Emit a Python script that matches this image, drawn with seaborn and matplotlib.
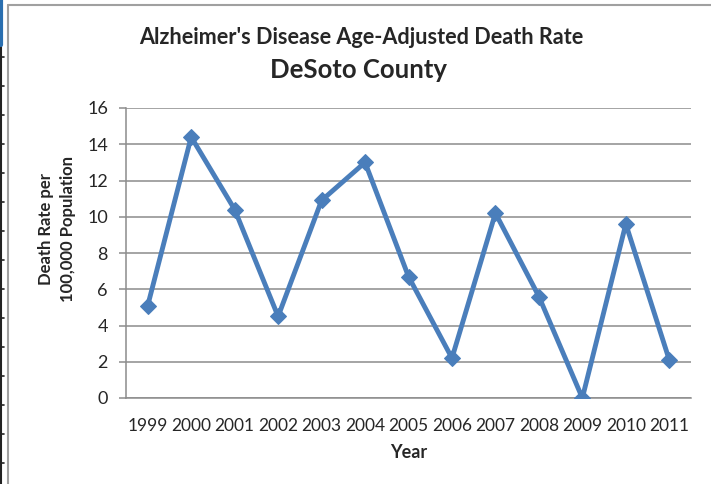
import numpy as np
import pandas as pd
import matplotlib
matplotlib.use("Agg")
import matplotlib.pyplot as plt
import seaborn as sns
from matplotlib.lines import Line2D

# values
years = ["1999", "2000", "2001", "2002", "2003", "2004", "2005",
         "2006", "2007", "2008", "2009", "2010", "2011"]
rates = [5.1, 14.4, 10.4, 4.5, 10.9, 13.0, 6.7, 2.2, 10.2, 5.6, 0.0, 9.6, 2.1]
y_ticks = [0, 2, 4, 6, 8, 10, 12, 14, 16]

df = pd.DataFrame({"Year": years, "Rate": rates})
df["pos"] = np.arange(len(years))

sns.set_style("white")
plt.rcParams["font.family"] = ["Lato", "DejaVu Sans"]

W, H = 711, 484
fig = plt.figure(figsize=(W / 100, H / 100), dpi=100)
ax = fig.add_axes([126 / W, 1 - 398 / H, (691 - 126) / W, (398 - 108) / H])

sns.lineplot(data=df, x="pos", y="Rate", ax=ax, color="#4A7EBB", linewidth=3.5,
             marker="D", markersize=8.5, markeredgecolor="#4A7EBB", zorder=3)

ax.set_xlim(-0.5, len(years) - 0.5)
ax.set_ylim(0, 16)
ax.set_yticks(y_ticks)
ax.set_xticks(df["pos"])
ax.set_xticklabels(years)
ax.yaxis.grid(True, color="#8C8C8C", linewidth=1.1)
ax.set_axisbelow(True)

for s in ["top", "right"]:
    ax.spines[s].set_visible(False)
ax.spines["left"].set_color("#8C8C8C")
ax.spines["bottom"].set_color("#8C8C8C")
ax.spines["left"].set_linewidth(1.1)
ax.spines["bottom"].set_linewidth(1.1)

ax.tick_params(axis="y", which="both", left=True, length=5, width=1.1, color="#8C8C8C",
               labelsize=13, labelcolor="#262626", pad=8)
ax.tick_params(axis="x", bottom=False, labelsize=12.5, labelcolor="#262626", pad=11)

ax.set_xlabel("Year", fontsize=13, fontweight="bold")
ax.xaxis.set_label_coords(0.5, -0.16)
ax.set_ylabel("Death Rate per\n100,000 Population", fontsize=12, fontweight="bold",
              linespacing=1.45)
ax.yaxis.set_label_coords(-0.088, 0.583)

fig.text(361 / W, 1 - 37 / H, "Alzheimer's Disease Age-Adjusted Death Rate",
         ha="center", va="center", fontsize=15.6, fontweight="bold")
fig.text(358 / W, 1 - 70 / H, "DeSoto County", ha="center", va="center",
         fontsize=18.5, fontweight="bold")

# outer chart frame and left window edge
fig.add_artist(Line2D([8 / W, 8 / W], [0, 1 - 5 / H], color="#A0A0A0", linewidth=1.5))
fig.add_artist(Line2D([8 / W, 1], [1 - 5 / H, 1 - 5 / H], color="#A0A0A0", linewidth=1.5))
fig.add_artist(Line2D([1.5 / W, 1.5 / W], [0, 1], color="#222222", linewidth=1.5))
fig.add_artist(Line2D([1.5 / W, 1.5 / W], [1 - 45 / H, 1], color="#2A6FB0", linewidth=3))
for yy in range(57, 484, 29):
    fig.add_artist(Line2D([0, 4 / W], [1 - yy / H, 1 - yy / H], color="#222222", linewidth=1.2))

fig.savefig("out.png", dpi=100)
